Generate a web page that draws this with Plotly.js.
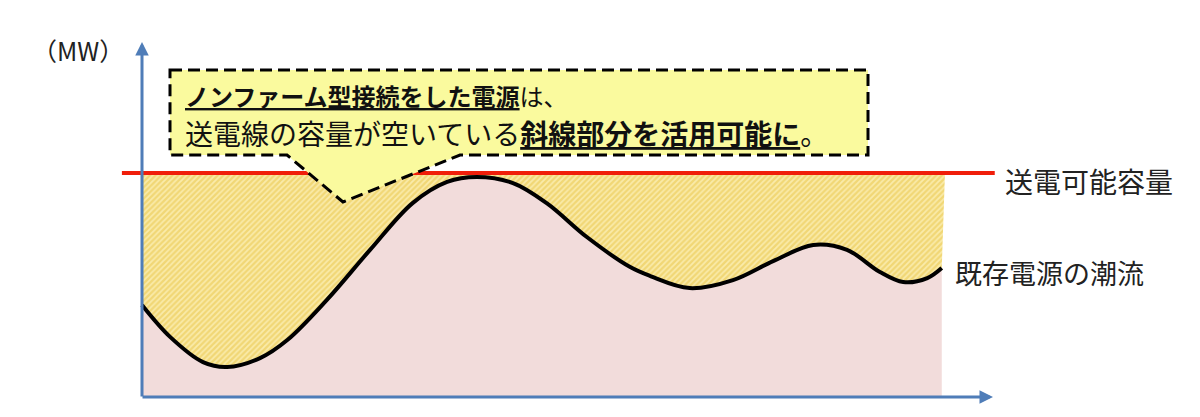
<!DOCTYPE html>
<html>
<head>
<meta charset="utf-8">
<script src="https://cdn.plot.ly/plotly-3.0.1.min.js"></script>
<style>
  html, body { margin: 0; padding: 0; background: #fff; }
  #plot { width: 1200px; height: 417px; }
</style>
</head>
<body>
<div id="plot"></div>
<script>
"use strict";

// Existing generation flow over time (arbitrary units, capacity = 100)
const timePts = [0, 3.5, 7.6, 10.6, 14.7, 18.1, 23.0, 28.4, 33.7, 38.0, 41.7, 46.2,
                 50.4, 55.4, 60.8, 63.3, 68.2, 73.6, 78.6, 83.6, 87.8, 91.9, 94.8, 97.8, 99.6];
const flowMW  = [40.8, 26.5, 15.2, 13.0, 17.0, 25.1, 43.0, 65.5, 86.5, 96.0, 98.2, 95.5,
                 86.5, 71.3, 57.8, 53.8, 48.4, 52.0, 60.5, 67.7, 65.5, 55.6, 51.1, 52.9, 57.4];
const bandX = [0, 100];
const capacityMW = [100, 100];
const capLineX = [-2.5, 106.2];

const unitLabel = "（MW）";
const capLabel = "送電可能容量";
const flowLabel = "既存電源の潮流";
const calloutLine1 = "<u><b>ノンファーム型接続をした電源</b></u>は、";
const calloutLine2 = "送電線の容量が空いている<u><b>斜線部分を活用可能に</b></u>。";

const W = 1200, H = 417;
const FONT = "'Noto Sans CJK JP', 'Noto Sans', sans-serif";
const AXIS_BLUE = "#4F7DB8";

// pixel -> paper helpers for the decorations
const px = x => x / W;
const py = y => 1 - y / H;
function pathOf(pts) {
    return pts.map((p, i) => (i ? "L" : "M") + px(p[0]) + "," + py(p[1])).join(" ") + " Z";
}

const traces = [];

// ── pink area under the existing flow ──
traces.push({
    type: "scatter", mode: "lines",
    x: timePts, y: flowMW,
    line: { shape: "spline", smoothing: 1, width: 0, color: "#F2DCDB" },
    fill: "tozeroy", fillcolor: "#F2DCDB",
    hoverinfo: "skip", showlegend: false,
});
// ── hatched free capacity between flow and capacity ──
traces.push({
    type: "scatter", mode: "lines",
    x: bandX, y: capacityMW,
    line: { width: 0, color: "#F3DA80" },
    fill: "tonexty", fillcolor: "#F3DA80",
    fillpattern: { shape: "/", bgcolor: "#F1D775", fgcolor: "#FAEBAA", size: 4, solidity: 0.45 },
    hoverinfo: "skip", showlegend: false,
});
// ── capacity line ──
traces.push({
    type: "scatter", mode: "lines",
    x: capLineX, y: capacityMW,
    line: { color: "#F01E0A", width: 4 },
    hoverinfo: "skip", showlegend: false,
});
// ── flow curve ──
traces.push({
    type: "scatter", mode: "lines",
    x: timePts, y: flowMW,
    line: { shape: "spline", smoothing: 1, width: 4, color: "#000" },
    hoverinfo: "skip", showlegend: false,
});

// callout box with pointer (pixel outline)
const callout = [[170, 70], [868, 70], [868, 155], [460, 155], [343, 202], [287, 155], [170, 155]];

const layout = {
    width: W, height: H,
    margin: { l: 0, r: 0, t: 0, b: 0 },
    paper_bgcolor: "#fff", plot_bgcolor: "#fff",
    showlegend: false,
    xaxis: { visible: false, range: [-17.68, 131.76], fixedrange: true },
    yaxis: { visible: false, range: [-9.42, 177.58], fixedrange: true },
    shapes: [{
        type: "path", xref: "paper", yref: "paper",
        path: pathOf(callout),
        fillcolor: "#FAFA9E",
        line: { color: "#000", width: 3, dash: "12px,6px" },
        layer: "above",
    }],
    annotations: [
        // axes as arrows
        { xref: "paper", yref: "paper", axref: "paper", ayref: "paper",
          x: px(142), y: py(42), ax: px(142), ay: py(398),
          text: "", showarrow: true, arrowhead: 2, arrowsize: 0.9, arrowwidth: 3, arrowcolor: AXIS_BLUE },
        { xref: "paper", yref: "paper", axref: "paper", ayref: "paper",
          x: px(993), y: py(397), ax: px(141), ay: py(397),
          text: "", showarrow: true, arrowhead: 2, arrowsize: 0.9, arrowwidth: 3, arrowcolor: AXIS_BLUE },
        { xref: "paper", yref: "paper", x: px(30), y: py(50), xanchor: "left", yanchor: "middle",
          text: unitLabel, showarrow: false, font: { family: FONT, size: 25, color: "#222" } },
        { xref: "paper", yref: "paper", x: px(1003), y: py(181), xanchor: "left", yanchor: "middle",
          text: capLabel, showarrow: false, font: { family: FONT, size: 28, color: "#222" } },
        { xref: "paper", yref: "paper", x: px(953), y: py(272), xanchor: "left", yanchor: "middle",
          text: flowLabel, showarrow: false, font: { family: FONT, size: 27, color: "#222" } },
        { xref: "paper", yref: "paper", x: px(183), y: py(95), xanchor: "left", yanchor: "middle",
          text: calloutLine1, showarrow: false, font: { family: FONT, size: 24, color: "#111" } },
        { xref: "paper", yref: "paper", x: px(183), y: py(133), xanchor: "left", yanchor: "middle",
          text: calloutLine2, showarrow: false, font: { family: FONT, size: 28, color: "#111" } },
    ],
};

Plotly.newPlot("plot", traces, layout, { staticPlot: true, displayModeBar: false });
</script>
</body>
</html>
